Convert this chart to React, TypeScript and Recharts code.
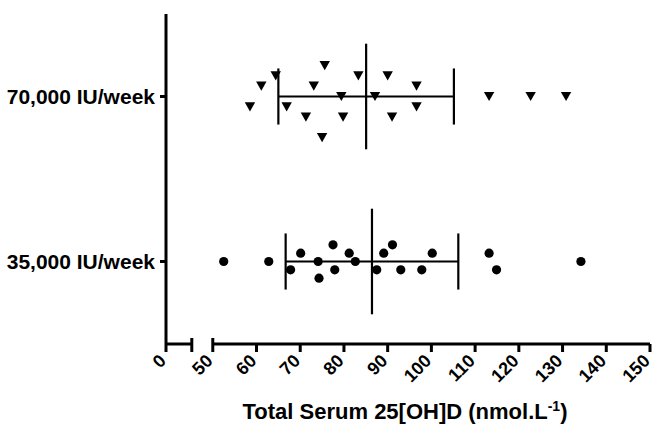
import React from 'react';
import { ScatterChart, Scatter, XAxis, YAxis, ReferenceLine, Label } from 'recharts';

// ---------- data ----------
const categories = ['35,000 IU/week', '70,000 IU/week'];

const dose35Values = [52.5, 62.8, 67.8, 70.1, 74.1, 74.3, 77.5, 77.9, 81.2, 82.6, 87.5, 89.1, 91.1, 93.0, 97.8, 100.2, 113.2, 114.9, 134.2];
const dose35Rows = [0, 0, 1, -1, 0, 2, -2, 1, -1, 0, 1, -1, -2, 1, 1, -1, -1, 1, 0];

const dose70Values = [58.5, 61.1, 64.4, 66.9, 71.3, 73.1, 75.0, 75.6, 79.4, 79.8, 83.3, 87.1, 90.0, 91.0, 96.6, 96.6, 113.2, 122.7, 130.8];
const dose70Rows = [1, -1, -2, 1, 2, -1, 4, -3, 0, 2, -2, 0, -2, 2, -1, 1, 0, 0, 0];

const xTicks = [50, 60, 70, 80, 90, 100, 110, 120, 130, 140, 150];
const xAxisTitle = 'Total Serum 25[OH]D (nmol.L';
const xAxisTitleSup = '-1';

// axis-break placement (axis units on the continuous scale)
const X_ZERO = 39.3; // where the "0" of the first segment sits
const X_BREAK = 45.2; // end of first segment
const X_MAX = 150;

const FONT = '"Liberation Sans", Arial, Helvetica, sans-serif';

// ---------- helpers ----------
const mean = (a: number[]) => a.reduce((s, v) => s + v, 0) / a.length;
const sd = (a: number[]) => {
  const m = mean(a);
  return Math.sqrt(a.reduce((s, v) => s + (v - m) * (v - m), 0) / (a.length - 1));
};

const build = (vals: number[], rows: number[], cat: number, step: number) =>
  vals.map((v, i) => ({ x: v, y: cat - rows[i] * step }));

const data35 = build(dose35Values, dose35Rows, 1, 0.0506);
const data70 = build(dose70Values, dose70Rows, 2, 0.0624);

const groups = [
  { cat: 1, vals: dose35Values },
  { cat: 2, vals: dose70Values },
];

const Circle = (p: any) => <circle cx={p.cx} cy={p.cy} r={4.6} fill="#000" />;
const DownTri = (p: any) => (
  <polygon
    points={`${p.cx - 5.2},${p.cy - 4.6} ${p.cx + 5.2},${p.cy - 4.6} ${p.cx},${p.cy + 4.6}`}
    fill="#000"
  />
);

const XTick = (props: any) => {
  const { x, y, payload } = props;
  const v = payload.value;
  const isBreak = v === X_BREAK || v === 50;
  const label = v === X_ZERO ? '0' : v === X_BREAK ? '' : String(v);
  const tx = x + 1;
  const ty = y + 18;
  return (
    <g>
      <line x1={x} x2={x} y1={isBreak ? y - 6 : y} y2={y + 8} stroke="#000" strokeWidth={3} />
      {label ? (
        <text
          x={tx}
          y={ty}
          transform={`rotate(-45 ${tx} ${ty})`}
          textAnchor="end"
          fontFamily={FONT}
          fontWeight="bold"
          fontSize={18}
          fill="#000"
        >
          {label}
        </text>
      ) : null}
    </g>
  );
};

const XTitle = (props: any) => {
  const vb = props.viewBox || {};
  const cx = vb.x + vb.width / 2 - 3;
  const cy = vb.y + 75;
  return (
    <text x={cx} y={cy} textAnchor="middle" fontFamily={FONT} fontWeight="bold" fontSize={22} fill="#000">
      <tspan>{xAxisTitle}</tspan>
      <tspan dy={-8} fontSize={14}>{xAxisTitleSup}</tspan>
      <tspan dy={8}>)</tspan>
    </text>
  );
};

export default function App() {
  return (
    <div style={{ position: 'absolute', left: 0, top: 0, background: '#fff' }}>
      <ScatterChart width={653} height={430} margin={{ top: 14, right: 3, bottom: 0, left: 0 }}>
        <XAxis
          type="number"
          dataKey="x"
          domain={[X_ZERO, X_MAX]}
          ticks={[X_ZERO, X_BREAK, ...xTicks]}
          interval={0}
          allowDataOverflow
          axisLine={false}
          tickLine={false}
          tickSize={0}
          tickMargin={0}
          tick={<XTick />}
          height={86}
        >
          <Label content={<XTitle />} />
        </XAxis>
        <YAxis
          type="number"
          dataKey="y"
          domain={[0.5, 2.5]}
          ticks={[1, 2]}
          tickFormatter={(v: number) => categories[v - 1]}
          width={166}
          axisLine={{ stroke: '#000', strokeWidth: 3 }}
          tickLine={{ stroke: '#000', strokeWidth: 3 }}
          tickSize={6}
          tickMargin={5}
          tick={{ fill: '#000', fontSize: 21, fontWeight: 'bold', fontFamily: FONT }}
        />
        <ReferenceLine
          segment={[{ x: X_ZERO, y: 0.5 }, { x: X_BREAK, y: 0.5 }]}
          stroke="#000"
          strokeWidth={3}
          ifOverflow="visible"
        />
        <ReferenceLine
          segment={[{ x: 50, y: 0.5 }, { x: X_MAX, y: 0.5 }]}
          stroke="#000"
          strokeWidth={3}
          ifOverflow="visible"
        />
        <Scatter data={data35} shape={<Circle />} isAnimationActive={false} />
        <Scatter data={data70} shape={<DownTri />} isAnimationActive={false} />
        {groups.map((g) => {
          const m = mean(g.vals);
          const s = sd(g.vals);
          return (
            <React.Fragment key={g.cat}>
              <ReferenceLine
                segment={[{ x: m - s, y: g.cat }, { x: m + s, y: g.cat }]}
                stroke="#000"
                strokeWidth={2.2}
                ifOverflow="visible"
              />
              <ReferenceLine
                segment={[{ x: m, y: g.cat - 0.32 }, { x: m, y: g.cat + 0.32 }]}
                stroke="#000"
                strokeWidth={2.2}
                ifOverflow="visible"
              />
              <ReferenceLine
                segment={[{ x: m - s, y: g.cat - 0.17 }, { x: m - s, y: g.cat + 0.17 }]}
                stroke="#000"
                strokeWidth={2.2}
                ifOverflow="visible"
              />
              <ReferenceLine
                segment={[{ x: m + s, y: g.cat - 0.17 }, { x: m + s, y: g.cat + 0.17 }]}
                stroke="#000"
                strokeWidth={2.2}
                ifOverflow="visible"
              />
            </React.Fragment>
          );
        })}
      </ScatterChart>
    </div>
  );
}
